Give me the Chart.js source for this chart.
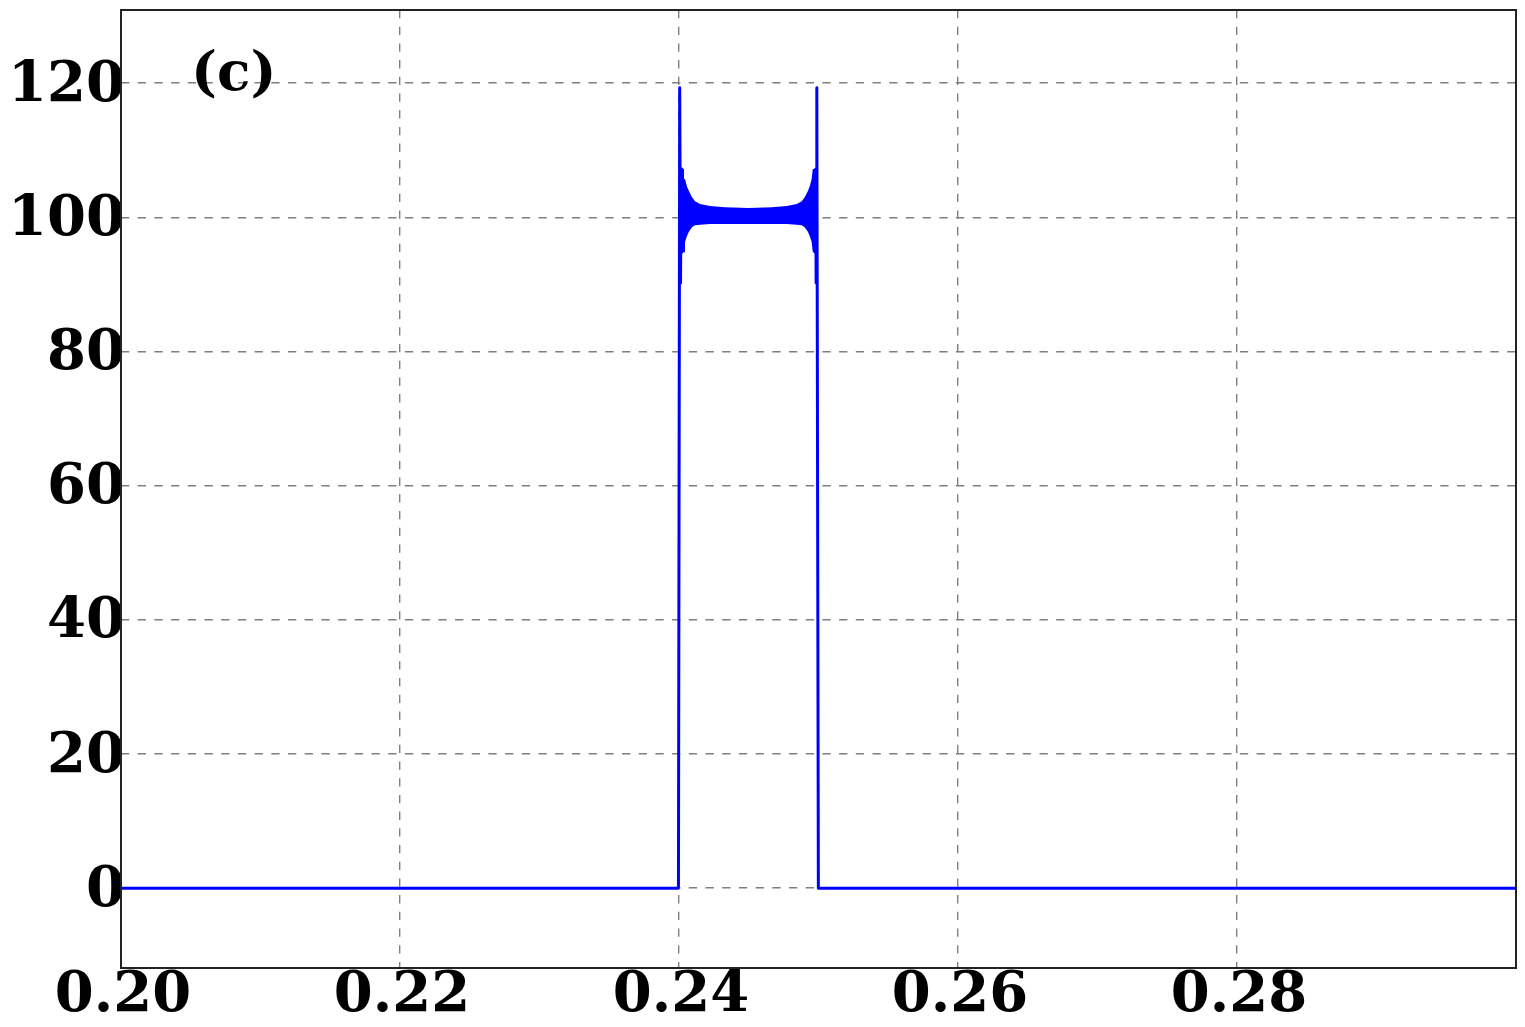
<!DOCTYPE html>
<html>
<head>
<meta charset="utf-8">
<script src="https://cdn.jsdelivr.net/npm/chart.js@4.4.1/dist/chart.umd.min.js"></script>
<style>
  html, body { margin: 0; padding: 0; background: #fff; }
  canvas { display: block; }
</style>
</head>
<body>
<canvas id="grafico" width="1525" height="1027"></canvas>
<script>
// Eixos
const xTicks = [0.20, 0.22, 0.24, 0.26, 0.28];
const xTickLabels = ['0.20', '0.22', '0.24', '0.26', '0.28'];
const yTicks = [0, 20, 40, 60, 80, 100, 120];
const yTickLabels = ['0', '20', '40', '60', '80', '100', '120'];

// Sinal principal (linha base, bordas e picos)
const traceX = [0.2000, 0.2200, 0.2399, 0.23996, 0.24005, 0.24011, 0.24015, 0.24020, 0.24030,
                0.24970, 0.24976, 0.24980, 0.24983, 0.24988, 0.24999, 0.25005, 0.2700, 0.3000];
const traceY = [0, 0, 0, 0, 119.3, 90.2, 107.2, 94.8, 100.2,
                100.2, 94.8, 107.2, 90.2, 119.3, 0, 0, 0, 0];

// Envoltória da oscilação rápida dentro do pulso
const bandX = [0.24011, 0.24036, 0.24043, 0.24057, 0.24072, 0.24093, 0.24115, 0.24151, 0.24222, 0.24330,
               0.24498,
               0.24666, 0.24772, 0.24844, 0.24880, 0.24901, 0.24923, 0.24937, 0.24951, 0.24959, 0.24984];
const bandUpper = [107.2, 107.2, 105.7, 104.6, 103.9, 103.0, 102.4, 102.0, 101.7, 101.5,
                   101.4,
                   101.5, 101.7, 102.0, 102.4, 103.0, 103.9, 104.6, 105.7, 107.2, 107.2];
const bandLower = [94.8, 94.8, 96.3, 97.2, 97.9, 98.5, 98.8, 98.9, 99.0, 99.0,
                   99.0,
                   99.0, 99.0, 98.9, 98.8, 98.5, 97.9, 97.2, 96.3, 94.8, 94.8];

const fonte = { family: '"DejaVu Serif", serif', size: 56, weight: 'bold' };
const azul = '#0000ff';

// Monta os pontos a partir das listas
const pontosTrace = traceX.map((x, i) => ({ x: x, y: traceY[i] }));
const pontosUpper = bandX.map((x, i) => ({ x: x, y: bandUpper[i] }));
const pontosLower = bandX.map((x, i) => ({ x: x, y: bandLower[i] }));

// Moldura e rótulo "(c)"
const molduraPlugin = {
    id: 'moldura',
    afterDraw(chart) {
        const { ctx, chartArea } = chart;
        ctx.save();
        ctx.strokeStyle = '#222';
        ctx.lineWidth = 2;
        ctx.strokeRect(chartArea.left, chartArea.top, chartArea.right - chartArea.left, chartArea.bottom - chartArea.top);
        ctx.fillStyle = '#000';
        ctx.font = 'bold 55px "DejaVu Serif", serif';
        ctx.textAlign = 'left';
        ctx.textBaseline = 'alphabetic';
        ctx.fillText('(c)', chartArea.left + 70, 90);
        ctx.restore();
    }
};

const config = {
    type: 'line',
    data: {
        datasets: [{
            label: 'sinal',
            data: pontosTrace,
            borderColor: azul,
            borderWidth: 3,
            borderJoinStyle: 'round',
            pointRadius: 0,
            fill: false,
            tension: 0
        }, {
            label: 'envoltoria superior',
            data: pontosUpper,
            borderWidth: 0,
            borderColor: azul,
            pointRadius: 0,
            fill: false
        }, {
            label: 'envoltoria inferior',
            data: pontosLower,
            borderWidth: 0,
            borderColor: azul,
            backgroundColor: azul,
            pointRadius: 0,
            fill: '-1'
        }]
    },
    options: {
        responsive: false,
        animation: false,
        devicePixelRatio: 1,
        layout: { padding: { left: 0, right: 9, top: 10, bottom: 0 } },
        plugins: {
            legend: { display: false },
            tooltip: { enabled: false }
        },
        scales: {
            x: {
                type: 'linear',
                min: 0.2,
                max: 0.3,
                afterBuildTicks: scale => { scale.ticks = xTicks.map(v => ({ value: v })); },
                afterFit: scale => {
                    scale.height = 59;
                    scale.paddingLeft = 0;
                    scale.paddingRight = 0;
                },
                ticks: {
                    callback: (v, i) => xTickLabels[i],
                    font: fonte,
                    color: '#000',
                    padding: -5,
                    labelOffset: 2,
                    autoSkip: false,
                    maxRotation: 0
                },
                grid: { color: '#7f7f7f', lineWidth: 1.4, drawTicks: false },
                border: { display: false, dash: [8.3, 8.4] }
            },
            y: {
                type: 'linear',
                min: -11.9,
                max: 130.9,
                afterBuildTicks: scale => { scale.ticks = yTicks.map(v => ({ value: v })); },
                afterFit: scale => {
                    scale.width = 121;
                    scale.paddingTop = 0;
                    scale.paddingBottom = 0;
                },
                ticks: {
                    callback: (v, i) => yTickLabels[i],
                    font: fonte,
                    color: '#000',
                    padding: -4,
                    labelOffset: 3,
                    autoSkip: false
                },
                grid: { color: '#7f7f7f', lineWidth: 1.4, drawTicks: false },
                border: { display: false, dash: [8.3, 8.4] }
            }
        }
    },
    plugins: [molduraPlugin]
};

new Chart(document.getElementById('grafico'), config);
</script>
</body>
</html>
